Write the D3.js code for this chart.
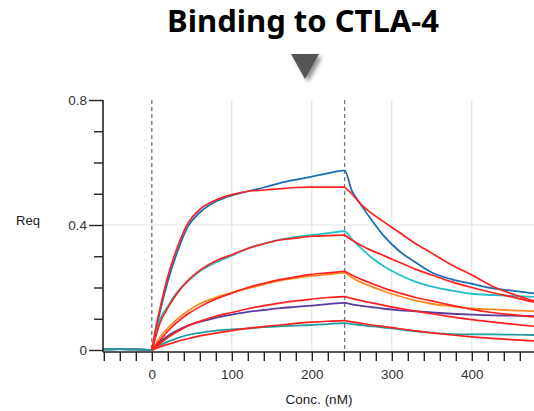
<!DOCTYPE html>
<html><head><meta charset="utf-8">
<script src="https://cdn.jsdelivr.net/npm/d3@7"></script>
<style>
html,body{margin:0;padding:0;background:#fff;}
svg{display:block;}
</style></head>
<body>
<svg id="c" width="534" height="411"></svg>
<script>
// ---- data ----
const title = "Binding to CTLA-4";
const xLabel = "Conc. (nM)";
const yLabel = "Req";
const xTickValues = [0, 100, 200, 300, 400];
const yTickLabels = ["0", "0.4", "0.8"];
const injectionStart = 0;
const injectionEnd = 241;

const baselineT = [-61, -40, -20, 0];
const baselineV = [0.002, 0.003, 0.002, 0.002];

const timeT = [0, 5, 10, 20, 30, 45, 60, 80, 100, 120, 140, 160, 180, 200, 220, 241,
               250, 260, 275, 290, 310, 330, 350, 375, 400, 425, 450, 478];

const seriesNames = ["c1", "c2", "c3", "c4", "c5"];
const seriesColors = ["#1d6db3", "#22c0c6", "#ff8a1c", "#5b3a9e", "#1f9ea0"];

const data1 = [0, 0.06, 0.12, 0.22, 0.30, 0.395, 0.44, 0.475, 0.495, 0.508, 0.52, 0.534, 0.545, 0.555, 0.565, 0.575,
               0.51, 0.47, 0.415, 0.365, 0.315, 0.28, 0.248, 0.226, 0.212, 0.198, 0.19, 0.181];
const fit1  = [0, 0.07, 0.13, 0.235, 0.315, 0.405, 0.45, 0.48, 0.497, 0.508, 0.512, 0.516, 0.52, 0.521, 0.521, 0.521,
               0.50, 0.47, 0.437, 0.41, 0.375, 0.34, 0.31, 0.272, 0.24, 0.205, 0.18, 0.157];
const data2 = [0, 0.05, 0.095, 0.14, 0.18, 0.22, 0.252, 0.28, 0.302, 0.325, 0.34, 0.353, 0.362, 0.368, 0.374, 0.38,
               0.355, 0.33, 0.295, 0.268, 0.24, 0.218, 0.203, 0.19, 0.18, 0.176, 0.173, 0.17];
const fit2  = [0, 0.045, 0.085, 0.135, 0.175, 0.222, 0.255, 0.285, 0.305, 0.325, 0.34, 0.352, 0.358, 0.364, 0.366, 0.368,
               0.352, 0.337, 0.318, 0.302, 0.28, 0.258, 0.24, 0.218, 0.2, 0.184, 0.17, 0.153];
const data3 = [0, 0.02, 0.04, 0.07, 0.095, 0.125, 0.148, 0.168, 0.183, 0.197, 0.21, 0.222, 0.23, 0.237, 0.242, 0.247,
               0.232, 0.218, 0.203, 0.188, 0.172, 0.158, 0.148, 0.14, 0.133, 0.13, 0.127, 0.124];
const fit3  = [0, 0.015, 0.03, 0.06, 0.085, 0.115, 0.138, 0.163, 0.182, 0.2, 0.213, 0.225, 0.234, 0.242, 0.247, 0.252,
               0.24, 0.228, 0.213, 0.198, 0.182, 0.168, 0.157, 0.143, 0.13, 0.12, 0.113, 0.106];
const data4 = [0, 0.012, 0.025, 0.045, 0.06, 0.078, 0.09, 0.103, 0.113, 0.122, 0.128, 0.134, 0.138, 0.142, 0.147, 0.151,
               0.146, 0.142, 0.137, 0.132, 0.127, 0.124, 0.12, 0.116, 0.113, 0.111, 0.11, 0.108];
const fit4  = [0, 0.01, 0.02, 0.04, 0.056, 0.077, 0.092, 0.108, 0.12, 0.132, 0.142, 0.15, 0.157, 0.163, 0.168, 0.171,
               0.165, 0.159, 0.151, 0.143, 0.133, 0.124, 0.116, 0.106, 0.097, 0.09, 0.083, 0.076];
const data5 = [0, 0.008, 0.015, 0.027, 0.036, 0.048, 0.055, 0.062, 0.066, 0.069, 0.073, 0.076, 0.078, 0.08, 0.083, 0.086,
               0.083, 0.08, 0.076, 0.072, 0.066, 0.06, 0.055, 0.051, 0.05, 0.05, 0.049, 0.048];
const fit5  = [0, 0.005, 0.01, 0.018, 0.026, 0.036, 0.045, 0.054, 0.062, 0.069, 0.075, 0.08, 0.085, 0.089, 0.092, 0.094,
               0.09, 0.086, 0.08, 0.075, 0.068, 0.061, 0.055, 0.048, 0.042, 0.037, 0.033, 0.029];

const dataSeries = [data1, data2, data3, data4, data5];
const fitSeries = [fit1, fit2, fit3, fit4, fit5];
const fitColor = "#ff1f1f";

// ---- drawing ----
const svg = d3.select("#c");
const W = 534, H = 411;
const x = d3.scaleLinear().domain([-61, 478]).range([103, 534.2]);
const y = d3.scaleLinear().domain([0, 0.8]).range([350, 100]);
const axisY = 352;

// defs: clip + shadow
const defs = svg.append("defs");
defs.append("clipPath").attr("id", "plotclip").append("rect")
  .attr("x", 103).attr("y", 95).attr("width", W - 103).attr("height", axisY - 95);
const f = defs.append("filter").attr("id", "shadow").attr("x", "-50%").attr("y", "-50%").attr("width", "200%").attr("height", "200%");
f.append("feGaussianBlur").attr("in", "SourceAlpha").attr("stdDeviation", 2.2).attr("result", "b");
f.append("feOffset").attr("in", "b").attr("dx", 3).attr("dy", 3).attr("result", "o");
f.append("feComponentTransfer").attr("in", "o").attr("result", "o2")
  .append("feFuncA").attr("type", "linear").attr("slope", 0.45);
const fm = f.append("feMerge");
fm.append("feMergeNode").attr("in", "o2");
fm.append("feMergeNode").attr("in", "SourceGraphic");

// title
svg.append("text").attr("x", 303).attr("y", 32).attr("text-anchor", "middle")
  .attr("font-family", "'Noto Sans', 'Open Sans', sans-serif").attr("font-weight", "bold")
  .attr("font-size", 31).attr("fill", "#000").text(title);

// arrow triangle
svg.append("path").attr("d", "M291,54 L319,54 L305,79 Z")
  .attr("fill", "#555").attr("filter", "url(#shadow)");

// gridlines
const grid = svg.append("g");
grid.selectAll("line.v").data(xTickValues.filter(d => d !== 0)).join("line")
  .attr("x1", d => x(d)).attr("x2", d => x(d)).attr("y1", y(0.8)).attr("y2", axisY)
  .attr("stroke", "#e4e4e4").attr("stroke-width", 1.2);
grid.selectAll("line.h").data([0.4]).join("line")
  .attr("x1", 103).attr("x2", W).attr("y1", d => y(d)).attr("y2", d => y(d))
  .attr("stroke", "#e4e4e4").attr("stroke-width", 1.2);

// injection markers
svg.selectAll("line.inj").data([injectionStart, injectionEnd]).join("line")
  .attr("x1", d => x(d)).attr("x2", d => x(d)).attr("y1", y(0.8)).attr("y2", axisY)
  .attr("stroke", "#777").attr("stroke-width", 1.3).attr("stroke-dasharray", "4,3");

// curves
const plot = svg.append("g").attr("clip-path", "url(#plotclip)");
const line = d3.line().x(d => x(d[0])).y(d => y(d[1])).curve(d3.curveMonotoneX);

dataSeries.forEach((vals, i) => {
  const pts = baselineT.slice(0, -1).map((t, j) => [t, baselineV[j]])
    .concat(timeT.map((t, j) => [t, vals[j]]));
  plot.append("path").datum(pts).attr("d", line)
    .attr("fill", "none").attr("stroke", seriesColors[i]).attr("stroke-width", 1.8);
});
fitSeries.forEach((vals) => {
  const asc = timeT.map((t, j) => [t, vals[j]]).filter(d => d[0] <= injectionEnd);
  const dis = timeT.map((t, j) => [t, vals[j]]).filter(d => d[0] >= injectionEnd);
  [asc, dis].forEach(p => plot.append("path").datum(p).attr("d", line)
    .attr("fill", "none").attr("stroke", fitColor).attr("stroke-width", 1.7));
});

// axes
const xAxis = d3.axisBottom(x).tickValues(d3.range(-60, 479, 20)).tickSize(9).tickFormat(d => xTickValues.includes(d) ? d : "");
const gx = svg.append("g").attr("transform", `translate(0,${axisY})`).call(xAxis);
gx.select(".domain").attr("d", `M103,0H${W}`).attr("stroke", "#222").attr("stroke-width", 1.6);
gx.selectAll(".tick line").attr("stroke", "#222").attr("stroke-width", 1.4);
gx.selectAll(".tick text").attr("font-family", "'Liberation Sans', Arial, sans-serif")
  .attr("font-size", 13.5).attr("fill", "#333").attr("dy", "1.1em");

const yAxis = d3.axisLeft(y).tickValues(d3.range(0, 0.81, 0.1)).tickSize(9)
  .tickFormat(d => { const s = d3.format(".1~f")(d); return yTickLabels.includes(s) ? s : ""; });
const gy = svg.append("g").attr("transform", "translate(103,0)").call(yAxis);
gy.select(".domain").attr("d", `M0,${y(0.8)}V${axisY}`).attr("stroke", "#222").attr("stroke-width", 1.6);
gy.selectAll(".tick line").attr("stroke", "#222").attr("stroke-width", 1.4)
  .attr("x2", d => { const s = d3.format(".1~f")(d); return yTickLabels.includes(s) ? -14 : -9; });
gy.selectAll(".tick text").attr("font-family", "'Liberation Sans', Arial, sans-serif")
  .attr("font-size", 13.5).attr("fill", "#333").attr("x", -16);

// axis labels
svg.append("text").attr("x", 319).attr("y", 404).attr("text-anchor", "middle")
  .attr("font-family", "'Liberation Sans', Arial, sans-serif").attr("font-size", 13.5)
  .attr("fill", "#222").text(xLabel);
svg.append("text").attr("x", 28).attr("y", 225).attr("text-anchor", "middle")
  .attr("font-family", "'Liberation Sans', Arial, sans-serif").attr("font-size", 13)
  .attr("fill", "#222").text(yLabel);
</script>
</body></html>
